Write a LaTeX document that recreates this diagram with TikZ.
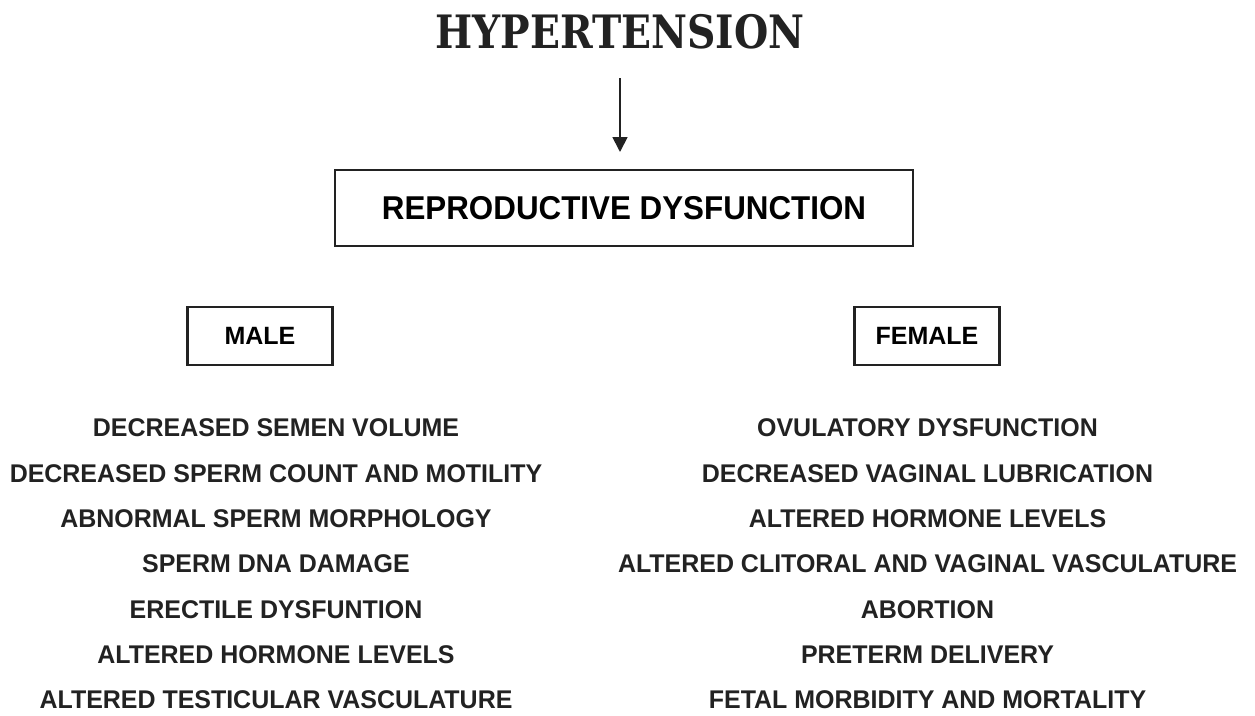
\documentclass[tikz,border=0pt]{standalone}
\usepackage{fontspec}
\usepackage{tikz}
\usetikzlibrary{arrows.meta}
\newfontfamily\headfont{DejaVu Serif}
\newfontfamily\itemfont{Liberation Sans}
\definecolor{inkgray}{HTML}{222222}

\begin{document}
\begin{tikzpicture}
	[x=1pt,y=-1pt,
	 box/.style={draw=inkgray,line width=2.2pt,inner sep=0pt},
	 item/.style={text=inkgray,font=\itemfont\fontsize{25.6}{25.6}\bfseries\selectfont,xscale=0.975,anchor=center}]
	\useasboundingbox (0,0) rectangle (1255,715);
	\node[font=\headfont\fontsize{46}{46}\bfseries\selectfont,xscale=0.855,text=inkgray] (ht) at (620,32) {HYPERTENSION};
	\node[box,minimum width=578pt,minimum height=76pt,font=\itemfont\fontsize{33}{33}\bfseries\selectfont] (rd) at (624,208) {\scalebox{0.95}[1]{REPRODUCTIVE DYSFUNCTION}};
	\coordinate (ar1) at (620,78);
	\coordinate (ar2) at (620,152);
	\draw[line width=1.8pt,inkgray,-{Triangle[length=15pt,width=15pt]}] (ar1) -- (ar2);
	\node[box,minimum width=145pt,minimum height=58pt,font=\itemfont\fontsize{25}{25}\bfseries\selectfont] (m) at (260,336) {MALE};
	\node[box,minimum width=145pt,minimum height=58pt,font=\itemfont\fontsize{25}{25}\bfseries\selectfont] (f) at (927,336) {FEMALE};
	\foreach \txt [count=\i] in {DECREASED SEMEN VOLUME,DECREASED SPERM COUNT AND MOTILITY,ABNORMAL SPERM MORPHOLOGY,SPERM DNA DAMAGE,ERECTILE DYSFUNTION,ALTERED HORMONE LEVELS,ALTERED TESTICULAR VASCULATURE}
	\node[item] (m\i) at (276,{428+45.3*(\i-1)}) {\txt};
	\foreach \txt [count=\i] in {OVULATORY DYSFUNCTION,DECREASED VAGINAL LUBRICATION,ALTERED HORMONE LEVELS,ALTERED CLITORAL AND VAGINAL VASCULATURE,ABORTION,PRETERM DELIVERY,FETAL MORBIDITY AND MORTALITY}
	\node[item] (f\i) at (927.5,{428+45.3*(\i-1)}) {\txt};
\end{tikzpicture}
\end{document}
